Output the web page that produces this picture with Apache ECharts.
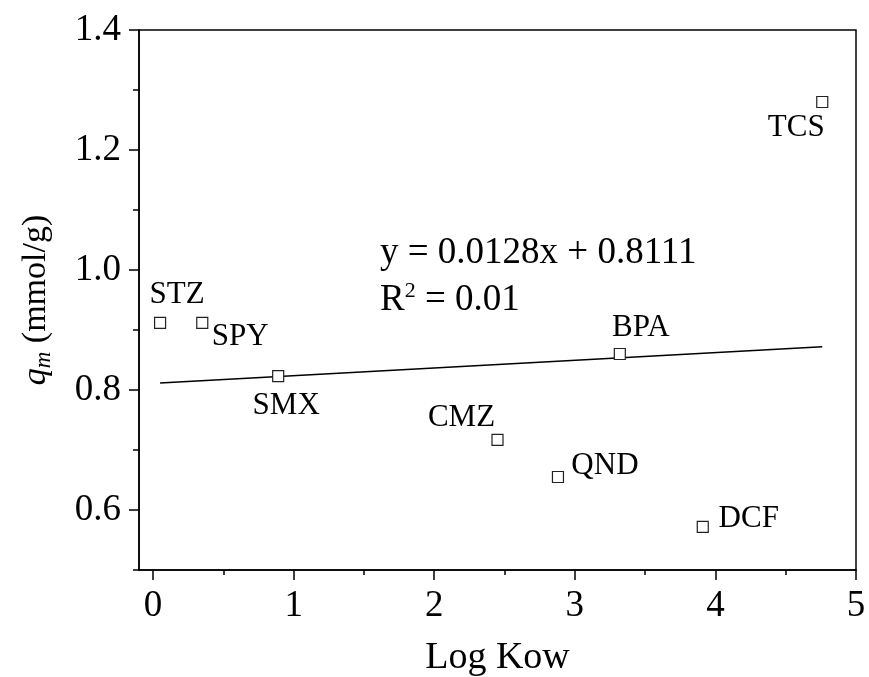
<!DOCTYPE html>
<html><head><meta charset="utf-8">
<script src="https://cdn.jsdelivr.net/npm/echarts@6/dist/echarts.min.js"></script>
<style>html,body{margin:0;padding:0;background:#fff}#c{width:869px;height:677px}</style>
</head><body><div id="c"></div>
<script>
// Data
const names = ['STZ','SPY','SMX','CMZ','QND','BPA','TCS','DCF'];
const logKow = [0.05, 0.35, 0.89, 2.45, 2.88, 3.32, 4.76, 3.91];
const qm = [0.912, 0.912, 0.823, 0.717, 0.655, 0.860, 1.280, 0.572];
const fitX = [0.05, 4.76];
const fitY = [0.8117, 0.8720];
const xTicks = [0, 1, 2, 3, 4, 5];
const xMinorTicks = [0.5, 1.5, 2.5, 3.5, 4.5];
const yTicks = [0.6, 0.8, 1.0, 1.2, 1.4];
const yMinorTicks = [0.5, 0.7, 0.9, 1.1, 1.3];

// label placement (style)
const labelOffsets = {
  STZ:[17,-28], SPY:[38,14], SMX:[8,30], CMZ:[-36,-22],
  QND:[47,-11], BPA:[21,-26], TCS:[-26,26], DCF:[46,-8]
};

const font = 'Liberation Serif, Times New Roman, serif';
const tickStyle = {color:'#000', width:1.5};
const chart = echarts.init(document.getElementById('c'));
chart.setOption({
  backgroundColor:'#fff',
  animation:false,
  grid:{left:139, right:13, top:30, bottom:107, show:true, borderColor:'#000', borderWidth:1.5,
    containLabel:false, outerBoundsMode:'none'},
  xAxis:[{
    type:'value', min:-0.1, max:5,
    name:'Log Kow', nameLocation:'middle', nameGap:69,
    nameTextStyle:{fontFamily:font, fontSize:38, color:'#000'},
    axisLine:{onZero:false, lineStyle:{color:'#000', width:1.5}},
    axisTick:{show:true, length:10, lineStyle:tickStyle, customValues: xTicks},
    axisLabel:{fontFamily:font, fontSize:37, color:'#000', margin:18,
      customValues: xTicks, formatter: v => String(v)},
    splitLine:{show:false}
  },{
    type:'value', min:-0.1, max:5, position:'bottom',
    axisLine:{show:false, onZero:false},
    axisTick:{show:true, length:5, lineStyle:tickStyle, customValues: xMinorTicks},
    axisLabel:{show:false},
    splitLine:{show:false}
  }],
  yAxis:[{
    type:'value', min:0.5, max:1.4,
    name:'{q|q}{m|m}{n| (mmol/g)}', nameLocation:'middle', nameGap:84, nameRotate:90,
    nameTextStyle:{fontFamily:font, fontSize:34, color:'#000',
      rich:{
        q:{fontFamily:font, fontSize:34, fontStyle:'italic', color:'#000'},
        m:{fontFamily:font, fontSize:23, fontStyle:'italic', color:'#000', padding:[15,0,0,0]},
        n:{fontFamily:font, fontSize:34, color:'#000'}
      }},
    axisLine:{onZero:false, lineStyle:{color:'#000', width:1.5}},
    axisTick:{show:true, length:10, lineStyle:tickStyle, customValues: yTicks},
    axisLabel:{fontFamily:font, fontSize:37, color:'#000', margin:18,
      customValues: yTicks, formatter: v => v.toFixed(1)},
    splitLine:{show:false}
  },{
    type:'value', min:0.5, max:1.4, position:'left',
    axisLine:{show:false, onZero:false},
    axisTick:{show:true, length:6, lineStyle:tickStyle, customValues: yMinorTicks},
    axisLabel:{show:false},
    splitLine:{show:false}
  }],
  series:[
    {
      type:'line',
      data: fitX.map((x,i)=>[x, fitY[i]]),
      showSymbol:false, symbol:'none',
      lineStyle:{color:'#000', width:1.6},
      z:2
    },
    {
      type:'scatter',
      symbol:'rect', symbolSize:11,
      itemStyle:{color:'#fff', borderColor:'#222', borderWidth:1.2, opacity:1},
      data: names.map((n,i)=>({
        value:[logKow[i], qm[i]],
        name:n,
        label:{show:true, position:'inside', offset:labelOffsets[n],
          formatter:n, fontFamily:font, fontSize:31, color:'#000', opacity:1,
          align:'center', verticalAlign:'middle'}
      })),
      z:3
    }
  ],
  graphic:[{
    type:'text', left:380, top:235,
    style:{
      text:'{a|y = 0.0128x + 0.8111}\n{a|R}{s|2}{a| = 0.01}',
      rich:{
        a:{fontFamily:font, fontSize:37, fill:'#000', lineHeight:47},
        s:{fontFamily:font, fontSize:22, fill:'#000', lineHeight:47, padding:[0,0,18,0]}
      }
    }
  }]
});
</script></body></html>
